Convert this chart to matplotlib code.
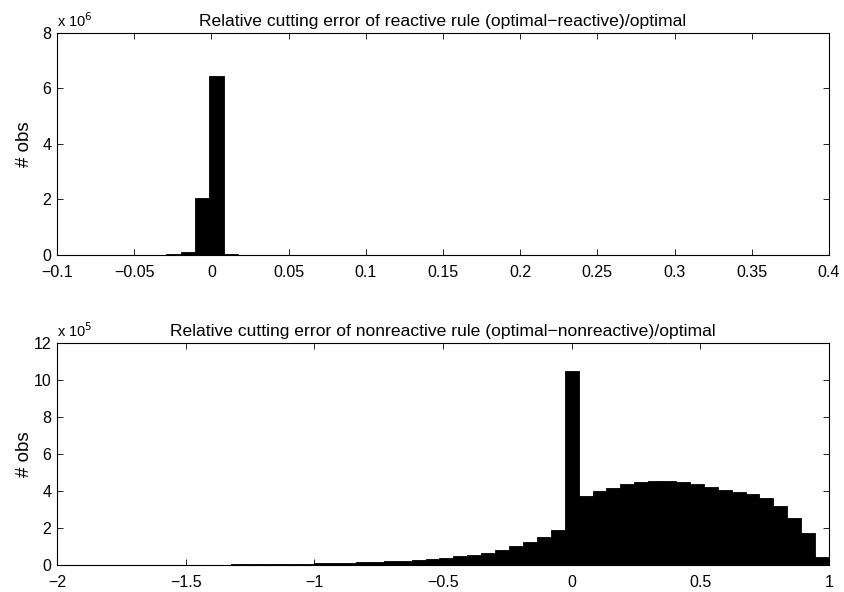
import numpy as np
import matplotlib
matplotlib.use("Agg")
import matplotlib.pyplot as plt
from matplotlib.ticker import FuncFormatter

plt.rcParams['font.family'] = ['Liberation Sans', 'DejaVu Sans']

# Reactive rule histogram: bin width and centres around zero, counts in millions
react_width = 0.0093
react_first_center = -0.0896
react_counts_1e6 = [0, 0, 0, 0, 0, 0, 0, 0.02, 0.10, 2.05, 6.45, 0.03] + [0] * 37

# Nonreactive rule histogram: counts in units of 1e5
nonreact_width = 1 / 18.5
nonreact_first_bin = -37
nonreact_left = [0.003, 0.003, 0.004, 0.005, 0.006, 0.007, 0.008, 0.010, 0.012,
                 0.014, 0.017, 0.020, 0.024, 0.029, 0.035, 0.042, 0.050, 0.060,
                 0.072, 0.085, 0.10, 0.12, 0.14, 0.16, 0.19, 0.22, 0.25]
nonreact_near = [0.31, 0.38, 0.47, 0.56, 0.66, 0.83, 1.01, 1.23, 1.50, 1.87]
nonreact_spike = [10.5]
nonreact_right = [3.75, 4.02, 4.14, 4.36, 4.49, 4.56, 4.56, 4.47, 4.36, 4.20,
                  4.05, 3.93, 3.82, 3.60, 3.21, 2.52, 1.75, 0.45]
nonreact_counts_1e5 = nonreact_left + nonreact_near + nonreact_spike + nonreact_right

react_counts = np.array(react_counts_1e6) * 1e6
react_centers = react_first_center + react_width * np.arange(len(react_counts))
nonreact_counts = np.array(nonreact_counts_1e5) * 1e5
nonreact_centers = nonreact_width * (nonreact_first_bin + np.arange(len(nonreact_counts)))

fig = plt.figure(figsize=(8.44, 5.92), dpi=100)
ax1 = fig.add_axes([0.0675, 0.5693, 0.9147, 0.375])
ax2 = fig.add_axes([0.0675, 0.0456, 0.9147, 0.375])

fs = 11.5
title_fs = 12.6

def matlab_style(ax, scale, exp):
    ax.tick_params(direction='in', top=True, right=True, length=4, width=0.6,
                   labelsize=fs)
    ax.tick_params(axis='x', pad=7)
    ax.tick_params(axis='y', pad=4)
    for s in ax.spines.values():
        s.set_linewidth(0.8)
    ax.yaxis.set_major_formatter(FuncFormatter(lambda v, p: '%g' % (v / scale)))
    ax.xaxis.set_major_formatter(FuncFormatter(lambda v, p: ('%g' % v).replace('-', '\u2212')))
    ax.text(0.0, 1.012, 'x 10$^{%d}$' % exp, transform=ax.transAxes, fontsize=fs - 1,
            ha='left', va='bottom')
    ax.set_ylabel('# obs', fontsize=13.5)
    ax.yaxis.set_label_coords(-0.031, 0.5)

# Top: reactive rule
ax1.bar(react_centers, react_counts, width=react_width, color='black',
        edgecolor='black', linewidth=0.6)
ax1.set_xlim(-0.1, 0.4)
ax1.set_ylim(0, 8e6)
ax1.set_xticks(np.arange(-0.1, 0.401, 0.05))
ax1.set_yticks(np.arange(0, 8.1e6, 2e6))
ax1.set_title('Relative cutting error of reactive rule (optimal\u2212reactive)/optimal',
              fontsize=title_fs, pad=5)
matlab_style(ax1, 1e6, 6)

# Bottom: nonreactive rule
ax2.bar(nonreact_centers, nonreact_counts, width=nonreact_width, color='black',
        edgecolor='black', linewidth=0.6)
ax2.set_xlim(-2, 1)
ax2.set_ylim(0, 12e5)
ax2.set_xticks(np.arange(-2, 1.01, 0.5))
ax2.set_yticks(np.arange(0, 12.1e5, 2e5))
ax2.set_title('Relative cutting error of nonreactive rule (optimal\u2212nonreactive)/optimal',
              fontsize=title_fs, pad=5)
matlab_style(ax2, 1e5, 5)

fig.savefig('out.png', dpi=100)
